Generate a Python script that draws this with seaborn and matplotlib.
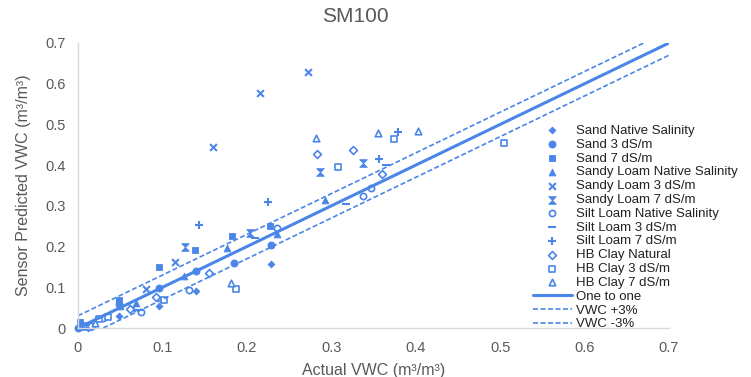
import matplotlib
matplotlib.use("Agg")
import matplotlib.pyplot as plt
import seaborn as sns
import numpy as np
import pandas as pd
from matplotlib.path import Path

sns.set_theme(style="white")
plt.rcParams['font.family'] = ['Liberation Sans', 'DejaVu Sans']

# ---- data ----
sand_nat_x = [0.003, 0.012, 0.049, 0.096, 0.140, 0.229]
sand_nat_y = [0.002, 0.000, 0.030, 0.054, 0.090, 0.158]
sand_3_x = [0.000, 0.049, 0.096, 0.140, 0.185, 0.229]
sand_3_y = [0.000, 0.060, 0.098, 0.140, 0.160, 0.205]
sand_7_x = [0.002, 0.049, 0.096, 0.138, 0.182, 0.227]
sand_7_y = [0.015, 0.070, 0.151, 0.191, 0.225, 0.251]
sl_nat_x = [0.005, 0.050, 0.069, 0.126, 0.176, 0.236, 0.292]
sl_nat_y = [0.005, 0.055, 0.062, 0.128, 0.197, 0.232, 0.314]
sl_3_x = [0.012, 0.064, 0.080, 0.115, 0.160, 0.216, 0.272]
sl_3_y = [0.005, 0.050, 0.095, 0.163, 0.445, 0.578, 0.630]
sl_7_x = [0.010, 0.127, 0.204, 0.287, 0.338]
sl_7_y = [0.005, 0.200, 0.234, 0.383, 0.405]
silt_nat_x = [0.017, 0.030, 0.075, 0.132, 0.236, 0.337, 0.347]
silt_nat_y = [0.005, 0.025, 0.040, 0.093, 0.246, 0.324, 0.345]
silt_3_x = [0.072, 0.210, 0.317, 0.365]
silt_3_y = [0.045, 0.222, 0.304, 0.400]
silt_7_x = [0.1435, 0.2246, 0.357, 0.379]
silt_7_y = [0.253, 0.309, 0.414, 0.481]
hb_nat_x = [0.015, 0.062, 0.092, 0.155, 0.283, 0.326, 0.360]
hb_nat_y = [0.005, 0.047, 0.077, 0.136, 0.427, 0.436, 0.378]
hb_3_x = [0.025, 0.035, 0.102, 0.187, 0.308, 0.374, 0.504]
hb_3_y = [0.022, 0.027, 0.069, 0.095, 0.395, 0.464, 0.454]
hb_7_x = [0.020, 0.181, 0.282, 0.355, 0.4025]
hb_7_y = [0.012, 0.111, 0.466, 0.478, 0.484]

line_1to1_x = [0.0, 0.70]
line_1to1_y = [0.0, 0.70]
line_p3_x = [0.0, 0.67]
line_p3_y = [0.03, 0.70]
line_m3_x = [0.03, 0.70]
line_m3_y = [0.0, 0.67]

xticks = [0, 0.1, 0.2, 0.3, 0.4, 0.5, 0.6, 0.7]
yticks = [0, 0.1, 0.2, 0.3, 0.4, 0.5, 0.6, 0.7]
tick_labels = ["0", "0.1", "0.2", "0.3", "0.4", "0.5", "0.6", "0.7"]

C = "#4a86e8"

bowtie = Path([(-1, 1), (1, 1), (-1, -1), (1, -1), (-1, 1)],
              [Path.MOVETO, Path.LINETO, Path.LINETO, Path.LINETO, Path.CLOSEPOLY])

series = [
    ("Sand Native Salinity", sand_nat_x, sand_nat_y, "D", True, 12),
    ("Sand 3 dS/m", sand_3_x, sand_3_y, "o", True, 26),
    ("Sand 7 dS/m", sand_7_x, sand_7_y, "s", True, 22),
    ("Sandy Loam Native Salinity", sl_nat_x, sl_nat_y, "^", True, 24),
    ("Sandy Loam 3 dS/m", sl_3_x, sl_3_y, "x", "line", 24),
    ("Sandy Loam 7 dS/m", sl_7_x, sl_7_y, bowtie, True, 30),
    ("Silt Loam Native Salinity", silt_nat_x, silt_nat_y, "o", False, 20),
    ("Silt Loam 3 dS/m", silt_3_x, silt_3_y, "_", "line", 34),
    ("Silt Loam 7 dS/m", silt_7_x, silt_7_y, "+", "line", 30),
    ("HB Clay Natural", hb_nat_x, hb_nat_y, "D", False, 16),
    ("HB Clay 3 dS/m", hb_3_x, hb_3_y, "s", False, 20),
    ("HB Clay 7 dS/m", hb_7_x, hb_7_y, "^", False, 22),
]

fig = plt.figure(figsize=(7.51, 3.77), dpi=100)
ax = fig.add_axes([78/751, 1 - 328/377, (669 - 78)/751, (328 - 43)/377])

for label, xs, ys, m, filled, s in series:
    df = pd.DataFrame({"x": xs, "y": ys})
    if filled is True:
        sns.scatterplot(data=df, x="x", y="y", marker=m, s=s, color=C,
                        edgecolor=C, linewidth=0.6, ax=ax, label=label, clip_on=False)
    elif filled == "line":
        sns.scatterplot(data=df, x="x", y="y", marker=m, s=s, color=C,
                        linewidth=1.5, ax=ax, label=label, clip_on=False)
    else:
        sns.scatterplot(data=df, x="x", y="y", marker=m, s=s, facecolor="white",
                        edgecolor=C, linewidth=1.2, ax=ax, label=label, clip_on=False)

sns.lineplot(x=line_1to1_x, y=line_1to1_y, color=C, linewidth=2.2, ax=ax, label="One to one")
sns.lineplot(x=line_p3_x, y=line_p3_y, color=C, linewidth=1.2, linestyle=(0, (3, 1.5)), ax=ax, label="VWC +3%")
sns.lineplot(x=line_m3_x, y=line_m3_y, color=C, linewidth=1.2, linestyle=(0, (3, 1.5)), ax=ax, label="VWC -3%")

ax.set_xlim(0, 0.7)
ax.set_ylim(0, 0.7)
ax.set_xticks(xticks)
ax.set_xticklabels(tick_labels)
ax.set_yticks(yticks)
ax.set_yticklabels(tick_labels)
ax.tick_params(axis="both", length=0, labelsize=10.5, colors="#595959")
ax.tick_params(axis="x", pad=9)
ax.tick_params(axis="y", pad=9)
for sp in ["top", "right"]:
    ax.spines[sp].set_visible(False)
for sp in ["left", "bottom"]:
    ax.spines[sp].set_color("#d9d9d9")
    ax.spines[sp].set_linewidth(1.0)
ax.grid(False)

ax.set_xlabel("Actual VWC (m³/m³)", fontsize=11.5, color="#595959", labelpad=6)
ax.set_ylabel("Sensor Predicted VWC (m³/m³)", fontsize=11.5, color="#595959", labelpad=10)
fig.text(355/751, 1 - 16/377, "SM100", ha="center", va="center", fontsize=15, color="#595959")

leg = ax.legend(loc="upper left", bbox_to_anchor=(530/751, 1 - 122/377), bbox_transform=fig.transFigure,
                frameon=False, fontsize=9.5, labelspacing=0.12, handlelength=3.0, handletextpad=0.3,
                borderpad=0.2, borderaxespad=0)
for t in leg.get_texts():
    t.set_color("#222222")

fig.savefig("out.png", dpi=100)
